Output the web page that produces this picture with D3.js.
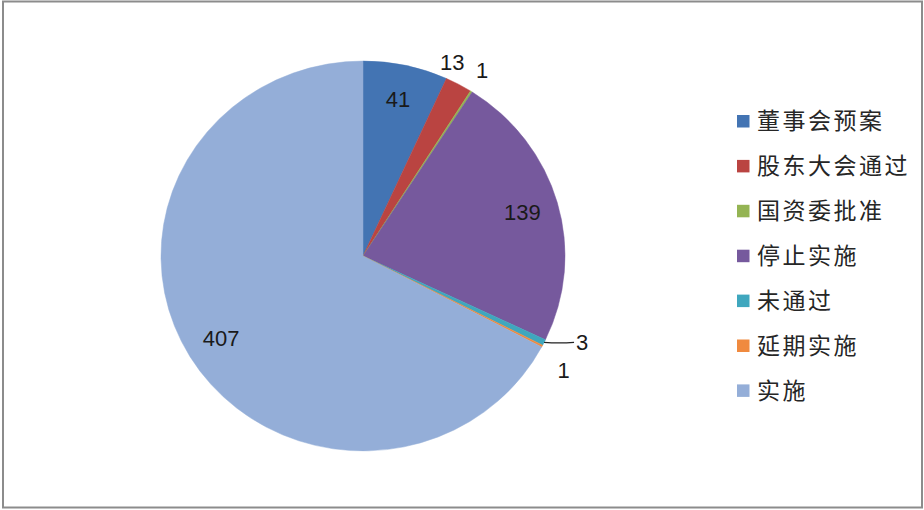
<!DOCTYPE html>
<html><head><meta charset="utf-8">
<script src="https://cdn.jsdelivr.net/npm/d3@7"></script>
<style>
html,body{margin:0;padding:0;background:#fff;}
svg{display:block;}
</style></head>
<body>
<svg id="chart" width="924" height="510"></svg>
<script>
const categories = ["董事会预案","股东大会通过","国资委批准","停止实施","未通过","延期实施","实施"];
const values = [41, 13, 1, 139, 3, 1, 407];
const colors = ["#4374B3","#BA4441","#94B453","#76599D","#3FA7BE","#F08A3F","#94AED8"];

const svg = d3.select("#chart");
// border
svg.append("rect").attr("x",3).attr("y",1.5).attr("width",919).attr("height",506)
  .attr("fill","none").attr("stroke","#8c8c8c").attr("stroke-width",2);

const cx = 363, cy = 256, R = 202, yScale = 0.965;
const pie = d3.pie().sort(null).value(d => d)(values);
const arc = d3.arc().innerRadius(0).outerRadius(R);

const g = svg.append("g").attr("transform", `translate(${cx},${cy}) scale(1,${yScale})`);
g.selectAll("path").data(pie).join("path")
  .attr("d", arc).attr("fill", (d,i) => colors[i])
  .attr("stroke", (d,i) => colors[i]).attr("stroke-width", 0.5);

function pt(angle, r){ return [cx + Math.sin(angle)*r, cy - Math.cos(angle)*r*yScale]; }
const labels = svg.append("g").attr("font-family","'Liberation Sans', Arial, sans-serif")
  .attr("font-size", 22).attr("fill","#1a1a1a").attr("text-anchor","middle");

pie.forEach((d,i) => {
  const mid = (d.startAngle + d.endAngle)/2;
  const frac = (d.endAngle - d.startAngle)/(2*Math.PI);
  let p;
  if (frac > 0.05) {
    p = pt(mid, R*0.82);
    labels.append("text").attr("x",p[0]).attr("y",p[1]).attr("dy","0.35em").text(values[i]);
  } else if (i === 4) {
    const e = pt(mid, R);
    const e2 = [e[0]+30, e[1]];
    labels.append("path").attr("d", `M${e[0]},${e[1]} Q${e[0]+15},${e[1]+1} ${e2[0]},${e2[1]}`)
      .attr("fill","none").attr("stroke","#222").attr("stroke-width",1.2);
    labels.append("text").attr("x",e2[0]+8).attr("y",e2[1]).attr("dy","0.35em").text(values[i]);
  } else if (i === 5) {
    p = pt(mid, R*1.12);
    labels.append("text").attr("x",p[0]).attr("y",p[1]+13).attr("dy","0.35em").text(values[i]);
  } else {
    p = pt(mid, R*1.1);
    labels.append("text").attr("x",p[0] - (i===1?16:0)).attr("y",p[1] - 5).attr("dy","0.35em").text(values[i]);
  }
});

// legend
const lg = svg.append("g").attr("transform","translate(737,121)");
const rows = lg.selectAll("g").data(categories).join("g")
  .attr("transform",(d,i)=>`translate(0,${i*44.9})`);
rows.append("rect").attr("x",0).attr("y",-6).attr("width",12.5).attr("height",12.5)
  .attr("fill",(d,i)=>colors[i]);
rows.append("text").attr("x",20).attr("y",0).attr("dy","0.36em")
  .attr("font-family","'Noto Sans CJK SC', sans-serif").attr("font-size",23)
  .attr("letter-spacing",2.5).attr("fill","#262626").text(d=>d);
</script>
</body></html>
